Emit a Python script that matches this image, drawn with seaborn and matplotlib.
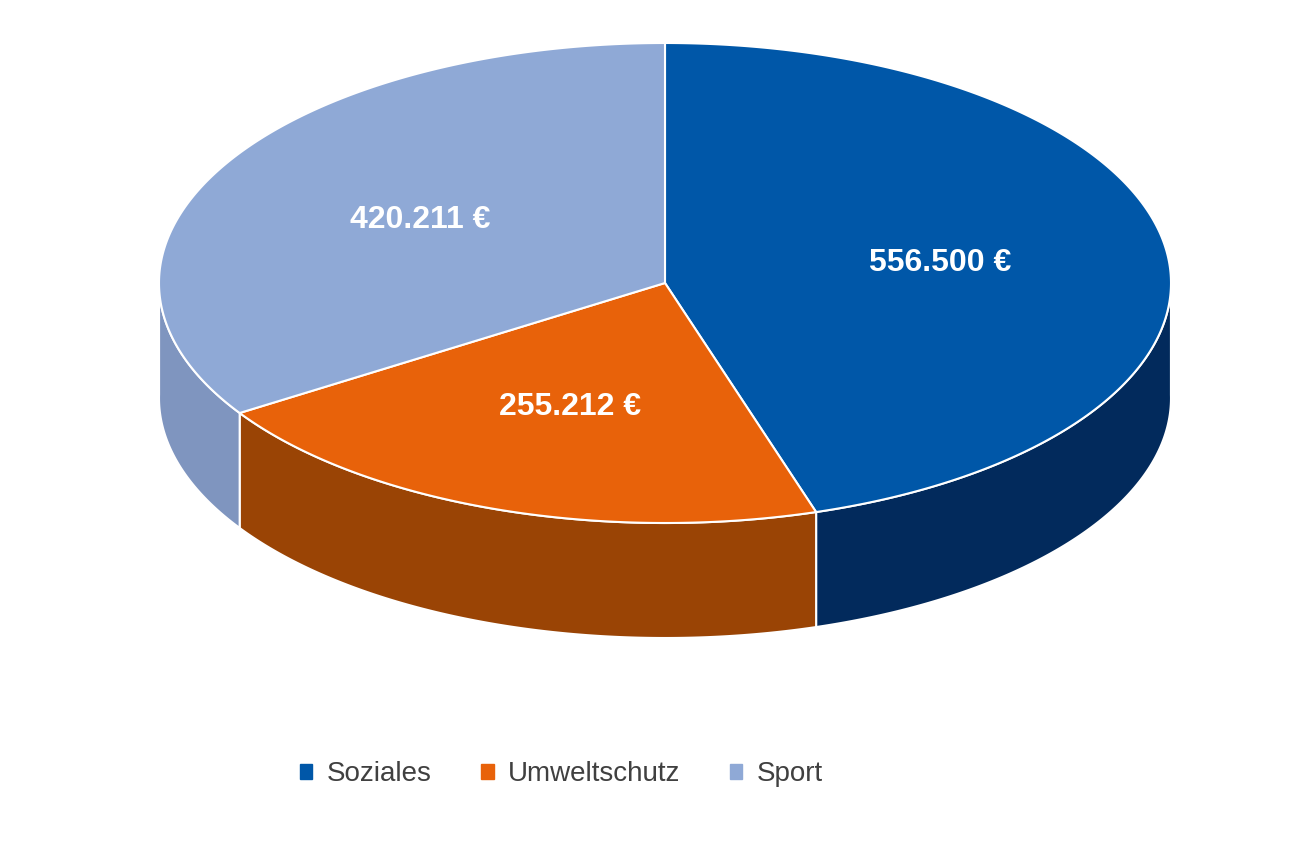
import numpy as np
import matplotlib
matplotlib.use("Agg")
from matplotlib import pyplot as plt
from matplotlib.patches import Polygon, Patch
import seaborn as sns

categories = ["Soziales", "Umweltschutz", "Sport"]
values = [556500, 255212, 420211]
value_labels = ["556.500 €", "255.212 €", "420.211 €"]
top_colors = ["#0057A8", "#E8620A", "#8FA9D6"]
side_colors = ["#022A5C", "#9A4405", "#7F95BF"]

sns.set_theme(style="white")
plt.rcParams["font.family"] = ["Liberation Sans", "DejaVu Sans"]

fig = plt.figure(figsize=(12.9, 8.6), dpi=100)
ax = fig.add_axes([0, 0, 1, 1])
ax.set_xlim(0, 1290)
ax.set_ylim(860, 0)
ax.axis("off")

# ellipse geometry (pixel-like units)
cx, cy, rx, ry, depth = 665, 283, 506, 240, 115


def pt(theta, r=1.0, dz=0.0):
    return cx + rx * r * np.cos(theta), cy - ry * r * np.sin(theta) + dz


total = sum(values)
start = np.pi / 2
wedges = []
for v in values:
    span = 2 * np.pi * v / total
    wedges.append((start - span, start))
    start -= span

# side walls (front half only)
for (a0, a1), col in zip(wedges, side_colors):
    th = np.linspace(a0, a1, 300)
    th = th[np.sin(th) <= 0.02]
    if len(th) < 2:
        th2 = th + 2 * np.pi
        th = np.linspace(a0 + 2 * np.pi, a1 + 2 * np.pi, 300)
        th = th[np.sin(th) <= 0.02]
    if len(th) < 2:
        continue
    top = np.array([pt(t) for t in th])
    bot = np.array([pt(t, dz=depth) for t in th[::-1]])
    ax.add_patch(Polygon(np.vstack([top, bot]), closed=True, fc=col,
                         ec="white", lw=1.5, zorder=1))

# top face
for (a0, a1), col in zip(wedges, top_colors):
    th = np.linspace(a0, a1, 300)
    pts = np.vstack([[cx, cy], np.array([pt(t) for t in th])])
    ax.add_patch(Polygon(pts, closed=True, fc=col, ec="white", lw=1.5, zorder=2))

# value labels
for (a0, a1), lab in zip(wedges, value_labels):
    m = (a0 + a1) / 2
    x, y = pt(m, r=0.55)
    ax.text(x, y, lab, color="white", fontsize=23, fontweight="bold",
            ha="center", va="center", zorder=3)

handles = [Patch(color=c, label=n) for c, n in zip(top_colors, categories)]
fig.legend(handles=handles, loc="center", bbox_to_anchor=(0.435, 0.1), ncol=3,
           frameon=False, fontsize=20, handlelength=0.45, handleheight=0.45,
           handletextpad=0.5, columnspacing=1.8, labelcolor="#404040")

fig.savefig("out.png", dpi=100)
